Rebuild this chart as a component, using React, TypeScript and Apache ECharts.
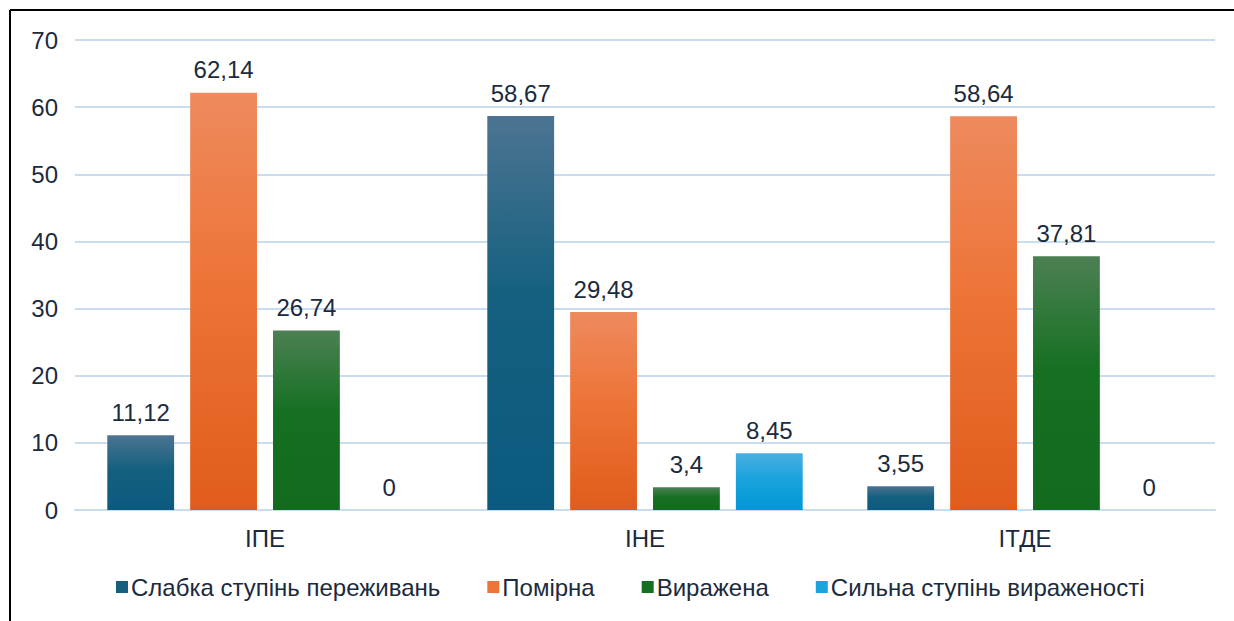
import React, { useEffect, useRef } from "react";
import * as echarts from "echarts";

const categories = ["ІПЕ", "ІНЕ", "ІТДЕ"];
const seriesNames = [
  "Слабка ступінь переживань",
  "Помірна",
  "Виражена",
  "Сильна ступінь вираженості",
];
const weak = [11.12, 58.67, 3.55];
const moderate = [62.14, 29.48, 58.64];
const expressed = [26.74, 3.4, 37.81];
const strong = [0, 8.45, 0];

const palette = [
  { top: "#4C7492", bottom: "#0B5A7F", solid: "#15607F" },
  { top: "#EE8A5E", bottom: "#E05C1C", solid: "#ED7437" },
  { top: "#4C8053", bottom: "#126B1E", solid: "#157022" },
  { top: "#4AAEE0", bottom: "#0098D6", solid: "#1AA3DD" },
];

const textColor = "#1B2A3D";
const font = "Arial, 'Liberation Sans', sans-serif";
const fs = 24;

export default function App() {
  const ref = useRef<HTMLDivElement>(null);
  useEffect(() => {
    document.body.style.margin = "0";
    const chart = echarts.init(ref.current!, null, { renderer: "svg" });
    const values = [weak, moderate, expressed, strong];
    chart.setOption({
      animation: false,
      backgroundColor: "#ffffff",
      textStyle: { fontFamily: font },
      grid: { left: 75, right: 19, top: 40, bottom: 111, containLabel: false },
      legend: {
        bottom: 17,
        left: 111,
        itemWidth: 12,
        itemHeight: 12,
        itemGap: 47,
        icon: "rect",
        textStyle: { fontSize: fs, color: textColor, fontFamily: font, padding: [0, 0, 0, -2] },
        data: seriesNames.map((n, i) => ({ name: n, itemStyle: { color: palette[i].solid } })),
      },
      xAxis: {
        type: "category",
        data: categories,
        axisLine: { show: true, lineStyle: { color: "#C9DCF0", width: 2 } },
        axisTick: { show: false },
        axisLabel: { fontSize: fs, color: textColor, margin: 16, fontFamily: font },
      },
      yAxis: {
        type: "value",
        min: 0,
        max: 70,
        interval: 10,
        axisLine: { show: false },
        axisTick: { show: false },
        splitLine: { lineStyle: { color: "#C9DCF0", width: 2 } },
        axisLabel: { fontSize: fs, color: textColor, margin: 17, fontFamily: font },
      },
      graphic: [
        { type: "line", shape: { x1: 10, y1: 10, x2: 1234, y2: 10 }, style: { stroke: "#000", lineWidth: 2 } },
        { type: "line", shape: { x1: 10, y1: 10, x2: 10, y2: 621 }, style: { stroke: "#000", lineWidth: 2 } },
      ],
      series: values.map((v, i) => ({
        name: seriesNames[i],
        type: "bar",
        data: v,
        barGap: "24%",
        barCategoryGap: "17%",
        itemStyle: {
          color: new echarts.graphic.LinearGradient(0, 0, 0, 1, [
            { offset: 0, color: palette[i].top },
            { offset: 0.45, color: palette[i].solid },
            { offset: 1, color: palette[i].bottom },
          ]),
        },
        label: {
          show: true,
          position: "top",
          distance: 11,
          fontSize: fs,
          color: textColor,
          fontFamily: font,
          formatter: (p: any) => String(p.value).replace(".", ","),
        },
      })),
    });
    return () => chart.dispose();
  }, []);
  return <div ref={ref} style={{ width: 1234, height: 621 }} />;
}
